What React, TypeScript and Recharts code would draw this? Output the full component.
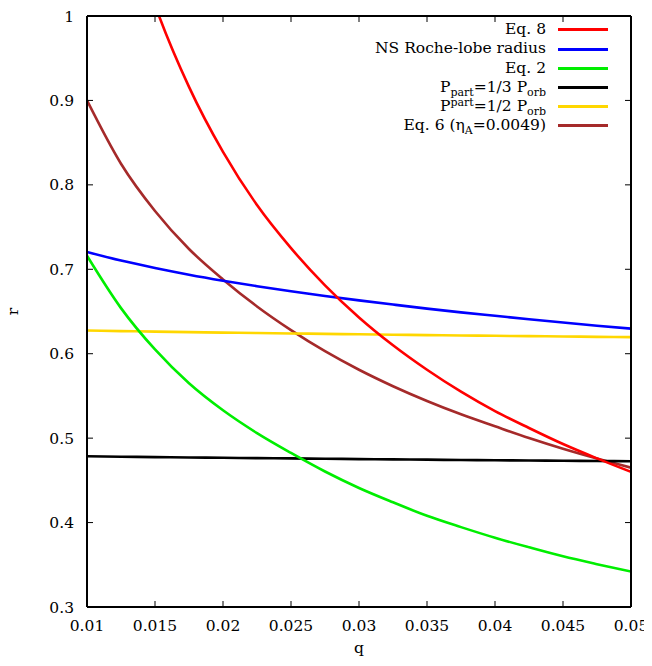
import { LineChart, Line, XAxis, YAxis, Legend } from "recharts";

// mass ratio grid
const Q = [
  0.01, 0.0125, 0.015, 0.0175, 0.02, 0.0225, 0.025, 0.0275, 0.03, 0.0325, 0.035,
  0.0375, 0.04, 0.0425, 0.045, 0.0475, 0.05,
];

const EQ8 = [
  1.32, 1.14, 1.013, 0.916, 0.839, 0.776, 0.725, 0.681, 0.643, 0.61, 0.581, 0.555,
  0.532, 0.512, 0.493, 0.476, 0.46,
];
const ROCHE = [
  0.7206, 0.7103, 0.7015, 0.6936, 0.6865, 0.68, 0.674, 0.6684, 0.6632, 0.6582,
  0.6534, 0.649, 0.6449, 0.6408, 0.6369, 0.6332, 0.6297,
];
const EQ2 = [
  0.716, 0.654, 0.605, 0.565, 0.533, 0.506, 0.4825, 0.4605, 0.441, 0.424, 0.408,
  0.3946, 0.382, 0.3707, 0.36, 0.3507, 0.342,
];
const P_THIRD = [
  0.4785, 0.478, 0.4775, 0.4771, 0.4767, 0.4763, 0.476, 0.4756, 0.4752, 0.4748,
  0.4745, 0.4741, 0.4738, 0.4735, 0.4732, 0.4729, 0.4726,
];
const P_HALF = [
  0.6275, 0.6268, 0.6262, 0.6256, 0.625, 0.6245, 0.624, 0.6235, 0.623, 0.6225,
  0.622, 0.6216, 0.6212, 0.6208, 0.6204, 0.62, 0.6196,
];
const EQ6 = [
  0.9, 0.825, 0.769, 0.724, 0.688, 0.656, 0.628, 0.603, 0.581, 0.5615, 0.544,
  0.5282, 0.514, 0.5001, 0.4874, 0.4758, 0.465,
];

const X_TICKS = [0.01, 0.015, 0.02, 0.025, 0.03, 0.035, 0.04, 0.045, 0.05];
const Y_TICKS = [0.3, 0.4, 0.5, 0.6, 0.7, 0.8, 0.9, 1];

const data = Q.map((q, i) => ({
  q,
  eq8: EQ8[i],
  roche: ROCHE[i],
  eq2: EQ2[i],
  third: P_THIRD[i],
  half: P_HALF[i],
  eq6: EQ6[i],
}));

const FONT = '"DejaVu Serif", serif';
const FS = 15.5;
const TL = 6; // inward tick length

const sub = (t: string) => (
  <span style={{ fontSize: 11, position: "relative", top: 4, lineHeight: 0 }}>{t}</span>
);
const sup = (t: string) => (
  <span style={{ fontSize: 11, position: "relative", top: -5, lineHeight: 0 }}>{t}</span>
);

const series = [
  { key: "eq8", color: "#ff0000", label: <>Eq. 8</> },
  { key: "roche", color: "#0000ff", label: <>NS Roche-lobe radius</> },
  { key: "eq2", color: "#00ee00", label: <>Eq. 2</> },
  { key: "third", color: "#000000", label: <>P{sub("part")}=1/3 P{sub("orb")}</> },
  { key: "half", color: "#ffd700", label: <>P{sup("part")}=1/2 P{sub("orb")}</> },
  { key: "eq6", color: "#a52a2a", label: <>Eq. 6 (η{sub("A")}=0.0049)</> },
];

const txt = { fontSize: FS, fill: "#000", style: { fontFamily: FONT } };

const BottomTick = (p: any) => (
  <g>
    <line x1={p.x} x2={p.x} y1={p.y} y2={p.y - TL} stroke="#000" />
    <text x={p.x} y={p.y + 13} dy="0.72em" textAnchor="middle" {...txt}>
      {String(p.payload.value)}
    </text>
  </g>
);
const LeftTick = (p: any) => (
  <g>
    <line x1={p.x} x2={p.x + TL} y1={p.y} y2={p.y} stroke="#000" />
    <text x={p.x - 13} y={p.y} dy="0.36em" textAnchor="end" {...txt}>
      {String(p.payload.value)}
    </text>
  </g>
);
const TopTick = (p: any) => (
  <line x1={p.x} x2={p.x} y1={p.y} y2={p.y + TL} stroke="#000" />
);
const RightTick = (p: any) => (
  <line x1={p.x} x2={p.x - TL} y1={p.y} y2={p.y} stroke="#000" />
);

const LegendBox = () => (
  <div style={{ fontFamily: FONT, fontSize: FS, color: "#000" }}>
    {series.map((s) => (
      <div
        key={s.key}
        style={{ height: 19.2, display: "flex", justifyContent: "flex-end", alignItems: "center", whiteSpace: "nowrap" }}
      >
        <span style={{ lineHeight: 1 }}>{s.label}</span>
        <span style={{ display: "inline-block", width: 50, height: 3, background: s.color, marginLeft: 12 }} />
      </div>
    ))}
  </div>
);

const axisLine = { stroke: "#000", strokeWidth: 2 };

export default function App() {
  return (
    <LineChart width={636} height={650} data={data} margin={{ top: 0, right: 3, bottom: 0, left: 0 }}>
      <XAxis
        xAxisId="b"
        dataKey="q"
        type="number"
        domain={[0.01, 0.05]}
        ticks={X_TICKS}
        interval={0}
        allowDataOverflow
        height={51}
        tickSize={0}
        tickMargin={0}
        tickLine={false}
        axisLine={axisLine}
        tick={<BottomTick />}
        label={({ viewBox }: any) => (
          <text x={viewBox.x + viewBox.width / 2} y={viewBox.y + 46} textAnchor="middle" {...txt}>
            q
          </text>
        )}
      />
      <XAxis
        xAxisId="t"
        orientation="top"
        dataKey="q"
        type="number"
        domain={[0.01, 0.05]}
        ticks={X_TICKS}
        interval={0}
        allowDataOverflow
        height={8}
        tickSize={0}
        tickMargin={0}
        tickLine={false}
        axisLine={axisLine}
        tick={<TopTick />}
      />
      <YAxis
        yAxisId="l"
        type="number"
        domain={[0.3, 1]}
        ticks={Y_TICKS}
        interval={0}
        allowDataOverflow
        width={79}
        tickSize={0}
        tickMargin={0}
        tickLine={false}
        axisLine={axisLine}
        tick={<LeftTick />}
        label={({ viewBox }: any) => {
          const cy = viewBox.y + viewBox.height / 2;
          return (
            <text x={10} y={cy} transform={`rotate(-90 10 ${cy})`} textAnchor="middle" {...txt}>
              r
            </text>
          );
        }}
      />
      <YAxis
        yAxisId="r"
        orientation="right"
        type="number"
        domain={[0.3, 1]}
        ticks={Y_TICKS}
        interval={0}
        allowDataOverflow
        width={10}
        tickSize={0}
        tickMargin={0}
        tickLine={false}
        axisLine={axisLine}
        tick={<RightTick />}
      />
      <Legend
        layout="vertical"
        align="center"
        verticalAlign="middle"
        wrapperStyle={{ left: 300, top: 12.4, width: 300 }}
        content={() => <LegendBox />}
      />
      {[...series].reverse().map((s) => (
        <Line
          key={s.key}
          xAxisId="b"
          yAxisId="l"
          type="monotone"
          dataKey={s.key}
          stroke={s.color}
          strokeWidth={2.6}
          dot={false}
          activeDot={false}
          isAnimationActive={false}
        />
      ))}
    </LineChart>
  );
}
